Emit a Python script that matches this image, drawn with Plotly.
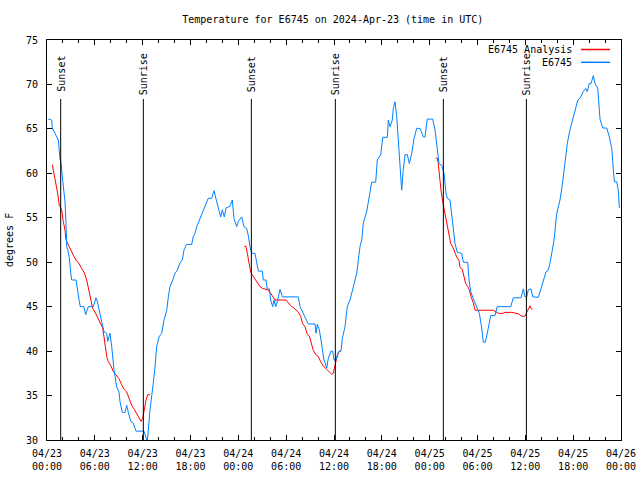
import plotly.graph_objects as go
import pandas as pd

START = pd.Timestamp("2024-04-23 00:00")

# Observed temperature (E6745): hours since 04/23 00:00 UTC, degrees F
obs_hours = [0.16, 0.59, 0.66, 1.00, 1.42, 1.63, 1.76, 1.92, 2.04, 2.26, 2.38, 2.47, 2.60, 2.80, 2.97,
             3.10, 3.64, 3.80, 4.05, 4.18, 4.64, 4.85, 5.18, 5.81, 6.15, 6.31, 6.56, 6.86, 7.15, 7.49,
             7.61, 7.90, 8.12, 8.40, 8.74, 9.03, 9.16, 9.45, 9.78, 10.00, 10.20, 10.50, 10.83, 11.16,
             12.17, 12.42, 12.58, 12.92, 13.13, 13.33, 13.55, 13.76, 14.05, 14.39, 14.68, 15.02, 15.22,
             15.43, 15.77, 16.06, 16.34, 16.68, 16.97, 17.19, 17.52, 18.15, 18.35, 18.56, 18.78, 19.19,
             19.61, 20.03, 20.23, 20.66, 20.95, 21.29, 21.58, 21.79, 21.99, 22.24, 22.45, 22.96, 23.24,
             23.46, 23.80, 24.00, 24.42, 24.71, 25.05, 25.25, 25.46, 25.68, 26.09, 26.30, 26.51, 27.01,
             27.13, 27.47, 27.63, 27.89, 28.06, 28.31, 28.47, 28.69, 28.94, 29.23, 29.52, 31.52, 31.74,
             32.24, 32.78, 33.62, 33.74, 33.91, 34.16, 34.46, 34.75, 35.09, 35.29, 35.62, 35.84, 36.00,
             36.25, 36.42, 36.63, 36.88, 37.04, 37.38, 37.67, 38.01, 38.42, 38.85, 39.05, 39.26, 39.48,
             39.68, 40.10, 40.43, 40.73, 41.23, 41.43, 41.86, 42.11, 42.69, 42.81, 43.03, 43.31, 43.44,
             43.65, 43.87, 44.07, 44.28, 44.49, 44.69, 44.91, 45.20, 45.45, 45.75, 46.04, 46.37, 46.79,
             47.20, 47.42, 47.70, 48.38, 48.67, 48.96, 49.17, 49.51, 49.80, 50.05, 50.21, 50.55, 50.77,
             50.97, 51.18, 51.47, 52.02, 52.22, 52.77, 52.94, 53.15, 53.47, 53.81, 54.23, 54.53, 54.73,
             54.98, 55.15, 55.36, 55.66, 56.20, 56.48, 58.17, 58.49, 59.46, 59.75, 59.96, 60.17, 60.37,
             60.71, 60.93, 61.63, 61.93, 62.26, 62.59, 62.88, 63.10, 63.43, 63.60, 63.94, 64.35, 64.64,
             64.98, 65.27, 65.60, 65.94, 66.23, 66.57, 66.95, 67.27, 67.57, 67.77, 68.02, 68.24, 68.53,
             68.74, 69.08, 69.24, 69.37, 69.71, 70.21, 70.54, 70.84, 71.04, 71.17, 71.46, 71.66, 71.79]
obs_temp = [66.1, 66.0, 65.1, 64.5, 63.75, 61.6, 61.2, 59.6, 58.5, 56.8, 54.4, 51.75, 51.4, 50.5, 48.8,
            48.0, 48.0, 46.9, 45.6, 45.0, 45.0, 44.1, 45.0, 45.0, 46.0, 45.6, 44.4, 43.3, 42.2, 42.0,
            41.1, 42.0, 40.5, 37.9, 36.0, 35.4, 34.3, 33.1, 33.1, 33.9, 33.1, 32.1, 31.9, 31.0,
            31.0, 30.1, 29.8, 33.4, 35.4, 36.4, 38.25, 40.5, 41.6, 42.0, 43.5, 44.6, 46.1,
            47.25, 48.0, 48.75, 49.1, 49.9, 50.25, 51.4, 52.0, 52.0, 52.9, 53.25, 54.0, 54.9,
            55.7, 56.8, 57.2, 57.2, 58.05, 56.8, 55.7, 55.1, 55.9, 55.1, 56.1, 56.3, 57.0,
            54.9, 54.0, 54.6, 55.1, 54.0, 53.8, 53.0, 51.75, 51.0, 51.0, 49.9, 49.0, 49.0,
            48.0, 48.0, 46.95, 47.0, 45.75, 45.0, 45.75, 45.0, 45.75, 46.95, 46.1, 46.1, 45.0,
            44.06, 43.05, 43.05, 42.0, 43.0, 42.4, 40.7, 39.0, 38.1, 39.2, 40.0, 40.0, 39.0,
            39.0, 39.6, 40.0, 40.0, 41.4, 42.75, 45.0, 45.75, 47.25, 48.75, 50.25, 51.75, 52.5,
            54.4, 55.7, 57.4, 59.0, 59.0, 61.5, 62.1, 64.05, 64.05, 66.0, 65.25, 66.0, 67.3,
            68.06, 66.4, 63.4, 61.1, 58.1, 60.4, 62.1, 62.1, 61.1, 62.25, 63.9, 65.06, 65.06,
            64.1, 64.1, 66.1, 66.1, 64.9, 62.6, 61.1, 60.9, 60.0, 57.75, 57.2, 57.0, 55.1,
            53.6, 52.1, 51.1, 51.0, 50.0, 50.0, 48.0, 46.7, 45.9, 45.2, 44.25, 42.6, 41.0,
            41.0, 41.6, 42.6, 44.0, 44.0, 45.0, 45.0, 46.0, 46.0, 47.0, 46.1, 46.1, 46.9,
            47.0, 46.1, 46.05, 47.0, 48.0, 48.9, 49.1, 49.95, 51.6, 52.5, 55.5, 57.0, 58.7,
            61.1, 63.4, 64.9, 66.1, 67.1, 68.2, 68.6, 69.2, 69.56, 69.2, 70.1, 70.1, 71.0,
            70.1, 69.6, 67.1, 66.1, 65.1, 65.1, 64.1, 62.8, 60.4, 59.06, 59.06, 58.1, 56.1]

# Analysis (E6745 Analysis): three overnight segments
ana1_hours = [0.66, 0.88, 1.09, 1.34, 1.54, 1.84, 2.04, 2.26, 2.38, 2.67, 2.97, 3.30, 3.64, 4.05, 4.35,
              4.68, 4.98, 5.27, 5.48, 5.73, 6.02, 6.31, 6.65, 6.99, 7.15, 7.28, 7.49, 7.69, 7.99, 8.32,
              8.74, 9.03, 9.37, 9.66, 10.00, 10.32, 10.62, 10.95, 11.25, 11.58, 11.79, 12.00, 12.17,
              12.42, 12.63, 12.92]
ana1_temp = [61.0, 60.0, 58.9, 57.75, 56.4, 55.9, 54.6, 53.6, 52.5, 51.9, 51.4, 50.8, 50.25, 49.8, 49.3,
             48.8, 48.0, 46.7, 45.6, 44.8, 44.4, 43.8, 43.3, 42.6, 41.6, 40.5, 39.4, 38.8, 38.4, 37.7,
             37.2, 36.9, 36.2, 35.7, 35.4, 34.7, 33.9, 33.45, 32.9, 32.4, 32.1, 32.4, 33.4,
             34.5, 35.1, 35.1]
ana2_hours = [24.75, 24.96, 25.13, 25.30, 25.55, 25.80, 26.09, 26.38, 26.72, 27.01, 27.35, 27.68, 28.06,
              28.39, 28.60, 29.98, 30.27, 30.57, 30.90, 31.23, 31.52, 31.82, 32.07, 32.36, 32.65, 32.90,
              33.12, 33.40, 33.71, 34.03, 34.33, 34.66, 35.09, 35.37, 35.71, 35.91, 36.13, 36.34, 36.54,
              36.84]
ana2_temp = [51.8, 51.8, 51.0, 49.9, 48.9, 48.5, 48.1, 47.6, 47.25, 47.06, 46.95, 46.9, 46.5,
             46.1, 45.75, 45.75, 45.4, 45.1, 44.9, 44.6, 44.4, 43.9, 43.1, 42.75, 41.9, 41.7,
             40.9, 40.1, 39.6, 39.4, 38.8, 38.3, 37.95, 37.7, 37.4, 37.5, 38.6, 39.2, 39.8,
             40.05]
ana3_hours = [48.76, 48.96, 49.08, 49.21, 49.42, 49.64, 49.80, 50.05, 50.26, 50.46, 50.64, 50.89, 51.09,
              51.39, 51.68, 51.81, 52.09, 52.31, 52.52, 52.77, 52.97, 53.19, 53.47, 53.69, 55.98, 56.32,
              56.61, 57.20, 57.45, 58.29, 58.71, 59.12, 59.42, 59.75, 59.96, 60.17, 60.37, 60.59, 60.71,
              60.88]
ana3_temp = [61.7, 61.7, 61.1, 59.6, 58.1, 56.8, 56.06, 54.9, 54.0, 53.06, 52.1, 51.7, 51.2,
             50.6, 50.2, 49.4, 49.2, 48.4, 47.6, 47.25, 46.9, 46.1, 45.45, 44.6, 44.6, 44.4,
             44.25, 44.25, 44.36, 44.36, 44.25, 44.2, 44.0, 43.9, 43.95, 44.4, 44.8, 45.1, 44.8,
             44.7]

# Sun events (UTC)
event_times = ["2024-04-23 01:43", "2024-04-23 12:05", "2024-04-24 01:38",
               "2024-04-24 12:10", "2024-04-25 01:43", "2024-04-25 12:08"]
event_labels = ["Sunset", "Sunrise", "Sunset", "Sunrise", "Sunset", "Sunrise"]

# X tick labels
tick_times = pd.date_range("2024-04-23 00:00", "2024-04-26 00:00", freq="6h")
tick_text = [t.strftime("%m/%d") + "<br>" + t.strftime("%H:%M") for t in tick_times]
y_ticks = [30, 35, 40, 45, 50, 55, 60, 65, 70, 75]

FONT = "DejaVu Sans Mono"


def to_time(hours):
    return [START + pd.Timedelta(hours=h) for h in hours]


ana_x, ana_y = [], []
for hs, ts in [(ana1_hours, ana1_temp), (ana2_hours, ana2_temp), (ana3_hours, ana3_temp)]:
    if ana_x:
        ana_x.append(None)
        ana_y.append(None)
    ana_x += to_time(hs)
    ana_y += ts

fig = go.Figure()
fig.add_trace(go.Scatter(x=ana_x, y=ana_y, mode="lines", name="E6745 Analysis",
                         line=dict(color="#ff0000", width=1), connectgaps=False, showlegend=False))
fig.add_trace(go.Scatter(x=to_time(obs_hours), y=obs_temp, mode="lines", name="E6745",
                         line=dict(color="#0080ff", width=1), showlegend=False))

for t, lab in zip(event_times, event_labels):
    fig.add_shape(type="line", xref="x", yref="paper", x0=t, x1=t, y0=0, y1=0.8525,
                  line=dict(color="black", width=1))
    fig.add_annotation(x=t, xref="x", y=0.915, yref="paper", text=lab, textangle=-90,
                       showarrow=False, xanchor="center", yanchor="middle", xshift=1,
                       font=dict(family=FONT, size=10, color="black"))

# Legend drawn gnuplot-style (text right, sample line on the right)
legend_items = [("E6745 Analysis", "#ff0000", 49.5), ("E6745", "#0080ff", 62.3)]
for name, color, ypx in legend_items:
    yp = (440 - ypx) / 400
    fig.add_annotation(x=(574 - 47) / 574, y=yp, xref="paper", yref="paper", text=name,
                       showarrow=False, xanchor="right", yanchor="middle",
                       font=dict(family=FONT, size=10, color="black"))
    fig.add_shape(type="line", xref="paper", yref="paper", x0=(581 - 47) / 574, x1=(610 - 47) / 574,
                  y0=yp, y1=yp, line=dict(color=color, width=1.5))

# Y axis title placed at the left edge
fig.add_annotation(x=(9 - 47) / 574, y=0.5, xref="paper", yref="paper", text="degrees F",
                   textangle=-90, showarrow=False, xanchor="center", yanchor="middle",
                   font=dict(family=FONT, size=10, color="black"))

fig.update_layout(
    width=640, height=480,
    margin=dict(l=47, r=19, t=40, b=40, autoexpand=False),
    paper_bgcolor="white", plot_bgcolor="white",
    font=dict(family=FONT, size=10, color="black"),
    title=dict(text="Temperature for E6745 on 2024-Apr-23 (time in UTC)",
               x=0.52, xanchor="center", y=1 - 19 / 480, yanchor="middle",
               font=dict(family=FONT, size=10, color="black")),
    showlegend=False,
)
fig.update_xaxes(
    range=["2024-04-23 00:00", "2024-04-26 00:00"], automargin=False,
    tickmode="array", tickvals=list(tick_times), ticktext=tick_text,
    ticks="inside", ticklen=5, tickcolor="black", showgrid=False, zeroline=False,
    showline=True, linecolor="black", linewidth=1, mirror="allticks",
    ticklabelstandoff=4,
    minor=dict(tickmode="linear", tick0="2024-04-23 00:00", dtick=2 * 3600 * 1000,
               ticks="inside", ticklen=3, tickcolor="black", showgrid=False),
    tickfont=dict(family=FONT, size=10, color="black"),
)
fig.update_yaxes(
    range=[30, 75], automargin=False, tickmode="array", tickvals=y_ticks,
    ticks="inside", ticklen=5, tickcolor="black", showgrid=False, zeroline=False,
    showline=True, linecolor="black", linewidth=1, mirror="allticks",
    ticklabelstandoff=6,
    tickfont=dict(family=FONT, size=10, color="black"),
)

fig.write_html("out.html", post_script="document.body.style.margin='0px';",
               config={"displayModeBar": False})
